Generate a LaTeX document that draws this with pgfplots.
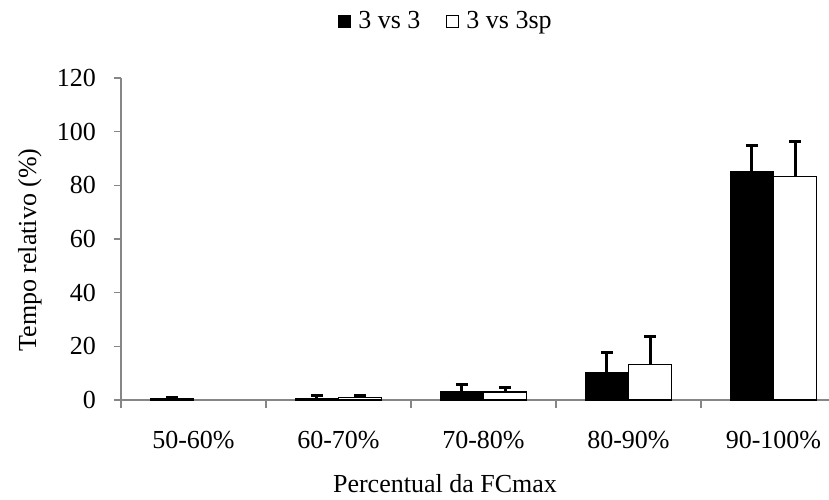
\documentclass[border=0pt]{standalone}
\usepackage{pgfplots}
\pgfplotsset{compat=1.18}
\usepackage{fontspec}
\setmainfont{Liberation Serif}
\definecolor{axgray}{RGB}{134,134,134}
\begin{document}
\fontsize{26}{30}\selectfont
\begin{tikzpicture}[x=1pt,y=1pt]
\useasboundingbox (0,0) rectangle (829,499);
\begin{axis}[
  at={(121pt,99pt)}, anchor=south west,
  scale only axis, width=708pt, height=322pt,
  xmin=-0.5, xmax=4.383, ymin=0, ymax=120,
  axis x line=bottom, axis y line=left,
  axis line style={draw=axgray, line width=1.5pt, -},
  ytick={0,20,...,120},
  xtick={0,1,2,3,4},
  xticklabels={50-60\%,60-70\%,70-80\%,80-90\%,90-100\%},
  minor xtick={-0.5,0.5,1.5,2.5,3.5},
  tick align=outside,
  major tick length=7pt, minor tick length=8pt,
  x tick style={draw=none}, 
  minor x tick style={draw=axgray, line width=1.5pt},
  y tick style={draw=axgray, line width=1.5pt},
  tick label style={font=\fontsize{26}{30}\selectfont},
  /pgf/number format/assume math mode=true,
  yticklabel style={anchor=east, inner sep=0pt, xshift=-18pt},
  xticklabel style={anchor=base, inner sep=0pt, yshift=-41pt},
  ybar, bar width=0.297,
  clip=false,
  legend columns=2,
  legend style={at={(0.459,1.174)}, anchor=center, draw=none, fill=none,
    font=\fontsize{26}{30}\selectfont,
    /tikz/every odd column/.append style={column sep=5pt},
    /tikz/every even column/.append style={column sep=24pt}},
  legend image code/.code={\draw[#1, line width=1pt] (0pt,-6pt) rectangle (12pt,6pt);},
  error bars/y dir=plus, error bars/y explicit,
  error bars/error bar style={line width=3pt, black},
  error bars/error mark options={rotate=90, mark size=6pt, line width=3pt, black},
]
\addplot[fill=black, draw=black, line width=1.5pt, bar shift=-0.1485] coordinates {
  (0,0.5) +- (0,0.4)
  (1,0.4) +- (0,1.3)
  (2,3.2) +- (0,2.4)
  (3,10.0) +- (0,7.8)
  (4,85.2) +- (0,9.5)
};
\addlegendentry{3 vs 3}
\addplot[fill=white, draw=black, line width=1.5pt, bar shift=0.1485] coordinates {
  (1,0.9) +- (0,0.8)
  (2,2.9) +- (0,1.6)
  (3,13.2) +- (0,10.4)
  (4,83.2) +- (0,13.2)
};
\addlegendentry{3 vs 3sp}
\end{axis}
\node[rotate=90, anchor=base, inner sep=0pt] at (36,249) {Tempo relativo (\%)};
\node[anchor=base, inner sep=0pt] at (445,6.5) {Percentual da FCmax};
\end{tikzpicture}
\end{document}
